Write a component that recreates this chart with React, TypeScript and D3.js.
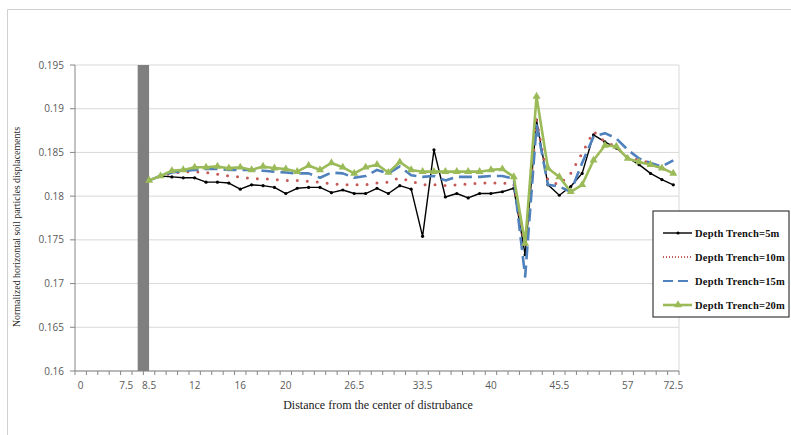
import React from 'react';
import * as d3 from 'd3';

// category slots along the x axis (Excel style category axis)
const slotCount = 53;
const firstDataSlot = 6;
const tickLabels = ['0', '7.5', '8.5', '12', '16', '20', '26.5', '33.5', '40', '45.5', '57', '72.5'];
const tickSlots = [0, 4, 6, 10, 14, 18, 24, 30, 36, 42, 48, 52];
const trenchSlots = [5, 6];
const yTicks = [0.16, 0.165, 0.17, 0.175, 0.18, 0.185, 0.19, 0.195];

const depth5 = [
  0.1818, 0.1823, 0.1822, 0.1821, 0.1821, 0.1816, 0.1816, 0.1815, 0.1808, 0.1813,
  0.1812, 0.1810, 0.1803, 0.1809, 0.1810, 0.1810, 0.1804, 0.1807, 0.1803, 0.1803,
  0.1809, 0.1803, 0.1812, 0.1808, 0.1754, 0.1853, 0.1799, 0.1803, 0.1798, 0.1803,
  0.1803, 0.1805, 0.1809, 0.1733, 0.1887, 0.1813, 0.1801, 0.1811, 0.1826, 0.1870,
  0.1862, 0.1855, 0.1844, 0.1836, 0.1826, 0.1819, 0.1813,
];
const depth10 = [
  0.1818, 0.1823, 0.1826, 0.1828, 0.1828, 0.1827, 0.1825, 0.1823, 0.1822, 0.1820,
  0.1820, 0.1819, 0.1818, 0.1818, 0.1817, 0.1816, 0.1814, 0.1813, 0.1813, 0.1813,
  0.1815, 0.1816, 0.1821, 0.1817, 0.1813, 0.1813, 0.1812, 0.1813, 0.1814, 0.1815,
  0.1815, 0.1815, 0.1814, 0.1742, 0.1887, 0.1818, 0.1813, 0.1826, 0.1849, 0.1874,
  0.1862, 0.1857, 0.1844, 0.1841, 0.1838, 0.1832, 0.1826,
];
const depth15 = [
  0.1818, 0.1823, 0.1827, 0.1829, 0.1830, 0.1831, 0.1831, 0.1830, 0.1830, 0.1830,
  0.1829, 0.1828, 0.1827, 0.1826, 0.1826, 0.1821, 0.1827, 0.1826, 0.1821, 0.1823,
  0.1830, 0.1826, 0.1834, 0.1824, 0.1822, 0.1823, 0.1818, 0.1822, 0.1822, 0.1822,
  0.1823, 0.1823, 0.1820, 0.1708, 0.1881, 0.1813, 0.1811, 0.1805, 0.1838, 0.1868,
  0.1872, 0.1866, 0.1853, 0.1843, 0.1838, 0.1834, 0.1841,
];
const depth20 = [
  0.1818, 0.1823, 0.1829, 0.1830, 0.1833, 0.1833, 0.1834, 0.1832, 0.1833, 0.1830,
  0.1834, 0.1832, 0.1831, 0.1828, 0.1835, 0.1830, 0.1838, 0.1833, 0.1826, 0.1833,
  0.1836, 0.1827, 0.1839, 0.1830, 0.1828, 0.1828, 0.1828, 0.1828, 0.1828, 0.1828,
  0.1830, 0.1831, 0.1822, 0.1746, 0.1914, 0.1832, 0.1822, 0.1805, 0.1813, 0.1841,
  0.1858, 0.1857, 0.1843, 0.1839, 0.1836, 0.1832, 0.1826,
];

const seriesList = [
  { name: 'Depth Trench=5m', values: depth5, color: '#000000', width: 1.4, dash: undefined, cap: 'butt', marker: 'dot' },
  { name: 'Depth Trench=10m', values: depth10, color: '#c55a56', width: 3, dash: '0 10', cap: 'round', marker: 'none' },
  { name: 'Depth Trench=15m', values: depth15, color: '#4f81bd', width: 2.6, dash: '13 6', cap: 'butt', marker: 'none' },
  { name: 'Depth Trench=20m', values: depth20, color: '#9bbb59', width: 2.6, dash: undefined, cap: 'butt', marker: 'triangle' },
];

const sans = "'Open Sans', 'DejaVu Sans', sans-serif";
const serif = "'Liberation Serif', 'DejaVu Serif', serif";

export default function App() {
  const width = 791, height = 435;
  const margin = { top: 65, right: 112, bottom: 64, left: 75 };

  const x = d3.scaleBand<number>()
    .domain(d3.range(slotCount))
    .range([margin.left, width - margin.right]);
  const cx = (slot: number) => (x(slot) as number) + x.bandwidth() / 2;
  const y = d3.scaleLinear()
    .domain([0.16, 0.195])
    .range([height - margin.bottom, margin.top]);

  const x0 = margin.left, x1 = width - margin.right;
  const y0 = height - margin.bottom, y1 = margin.top;

  const line = d3.line<number>()
    .x((_, i) => cx(firstDataSlot + i))
    .y(d => y(d));
  const tri = d3.symbol(d3.symbolTriangle, 28)();

  const legendX = 653, legendY = 211, legendW = 136, legendH = 106;
  const rowGap = 24;

  return (
    <svg width={width} height={height} style={{ position: 'absolute', left: 0, top: 0, background: '#fff' }}>
      {/* chart frame (top and left edges visible) */}
      <line x1={7.5} x2={width} y1={9.5} y2={9.5} stroke="#d0d0d0" />
      <line x1={7.5} x2={7.5} y1={9.5} y2={height} stroke="#d0d0d0" />

      {/* gridlines */}
      {yTicks.map(t => (
        <line key={t} x1={x0} x2={x1} y1={y(t)} y2={y(t)} stroke="#d9d9d9" strokeWidth={1} />
      ))}
      <line x1={x1} x2={x1} y1={y1} y2={y0} stroke="#d9d9d9" />

      {/* trench */}
      <rect x={cx(trenchSlots[0])} y={y1} width={cx(trenchSlots[1]) - cx(trenchSlots[0])} height={y0 - y1} fill="#7f7f7f" />

      {/* axes */}
      <line x1={x0} x2={x0} y1={y1} y2={y0} stroke="#868686" />
      <line x1={x0} x2={x1} y1={y0} y2={y0} stroke="#868686" />
      {yTicks.map(t => (
        <g key={'yt' + t}>
          <line x1={x0 - 5} x2={x0} y1={y(t)} y2={y(t)} stroke="#868686" />
          <text x={x0 - 11} y={y(t)} dy="0.35em" textAnchor="end" fontFamily={sans} fontSize={10} fill="#595959">
            {String(+t.toFixed(3))}
          </text>
        </g>
      ))}
      {d3.range(slotCount + 1).map(i => {
        const xx = i < slotCount ? (x(i) as number) : x1;
        return <line key={'xt' + i} x1={xx} x2={xx} y1={y0} y2={y0 + 4} stroke="#868686" />;
      })}
      {tickLabels.map((lab, i) => (
        <text key={'xl' + i} x={cx(tickSlots[i])} y={y0 + 18} textAnchor="middle" fontFamily={sans} fontSize={10} fill="#595959">
          {lab}
        </text>
      ))}

      {/* axis titles */}
      <text x={378} y={409} textAnchor="middle" fontFamily={serif} fontSize={12} fill="#1a1a1a">
        Distance from the center of distrubance
      </text>
      <text transform="translate(20,227) rotate(-90)" textAnchor="middle" fontFamily={serif} fontSize={10}
        fill="#262626" textLength={200} lengthAdjust="spacingAndGlyphs">
        Normalized horizontal soil particles displacements
      </text>

      {/* series */}
      {seriesList.map(s => (
        <g key={s.name}>
          <path d={line(s.values) || ''} fill="none" stroke={s.color} strokeWidth={s.width}
            strokeDasharray={s.dash} strokeLinecap={s.cap as any} strokeLinejoin="round" />
          {s.marker === 'dot' && s.values.map((v, i) => (
            <circle key={i} cx={cx(firstDataSlot + i)} cy={y(v)} r={1.6} fill={s.color} />
          ))}
          {s.marker === 'triangle' && s.values.map((v, i) => (
            <path key={i} d={tri || ''} transform={`translate(${cx(firstDataSlot + i)},${y(v)})`} fill={s.color} />
          ))}
        </g>
      ))}

      {/* legend */}
      <rect x={legendX} y={legendY} width={legendW} height={legendH} fill="#fff" stroke="#3a3a3a" strokeWidth={1.2} />
      {seriesList.map((s, i) => {
        const ly = legendY + 22 + i * rowGap;
        return (
          <g key={'lg' + s.name}>
            <line x1={legendX + 10} x2={legendX + 39} y1={ly} y2={ly} stroke={s.color}
              strokeWidth={s.marker === 'none' ? Math.min(s.width, 1.8) : s.width}
              strokeDasharray={s.dash === '0 10' ? '1 2' : s.dash === '13 6' ? '10 5' : undefined} />
            {s.marker === 'dot' && <circle cx={legendX + 25} cy={ly} r={1.6} fill={s.color} />}
            {s.marker === 'triangle' && <path d={tri || ''} transform={`translate(${legendX + 25},${ly})`} fill={s.color} />}
            <text x={legendX + 42} y={ly} dy="0.35em" fontFamily={serif} fontWeight="bold" fontSize={10.5}
              letterSpacing={0.2} fill="#111">
              {s.name}
            </text>
          </g>
        );
      })}
    </svg>
  );
}
